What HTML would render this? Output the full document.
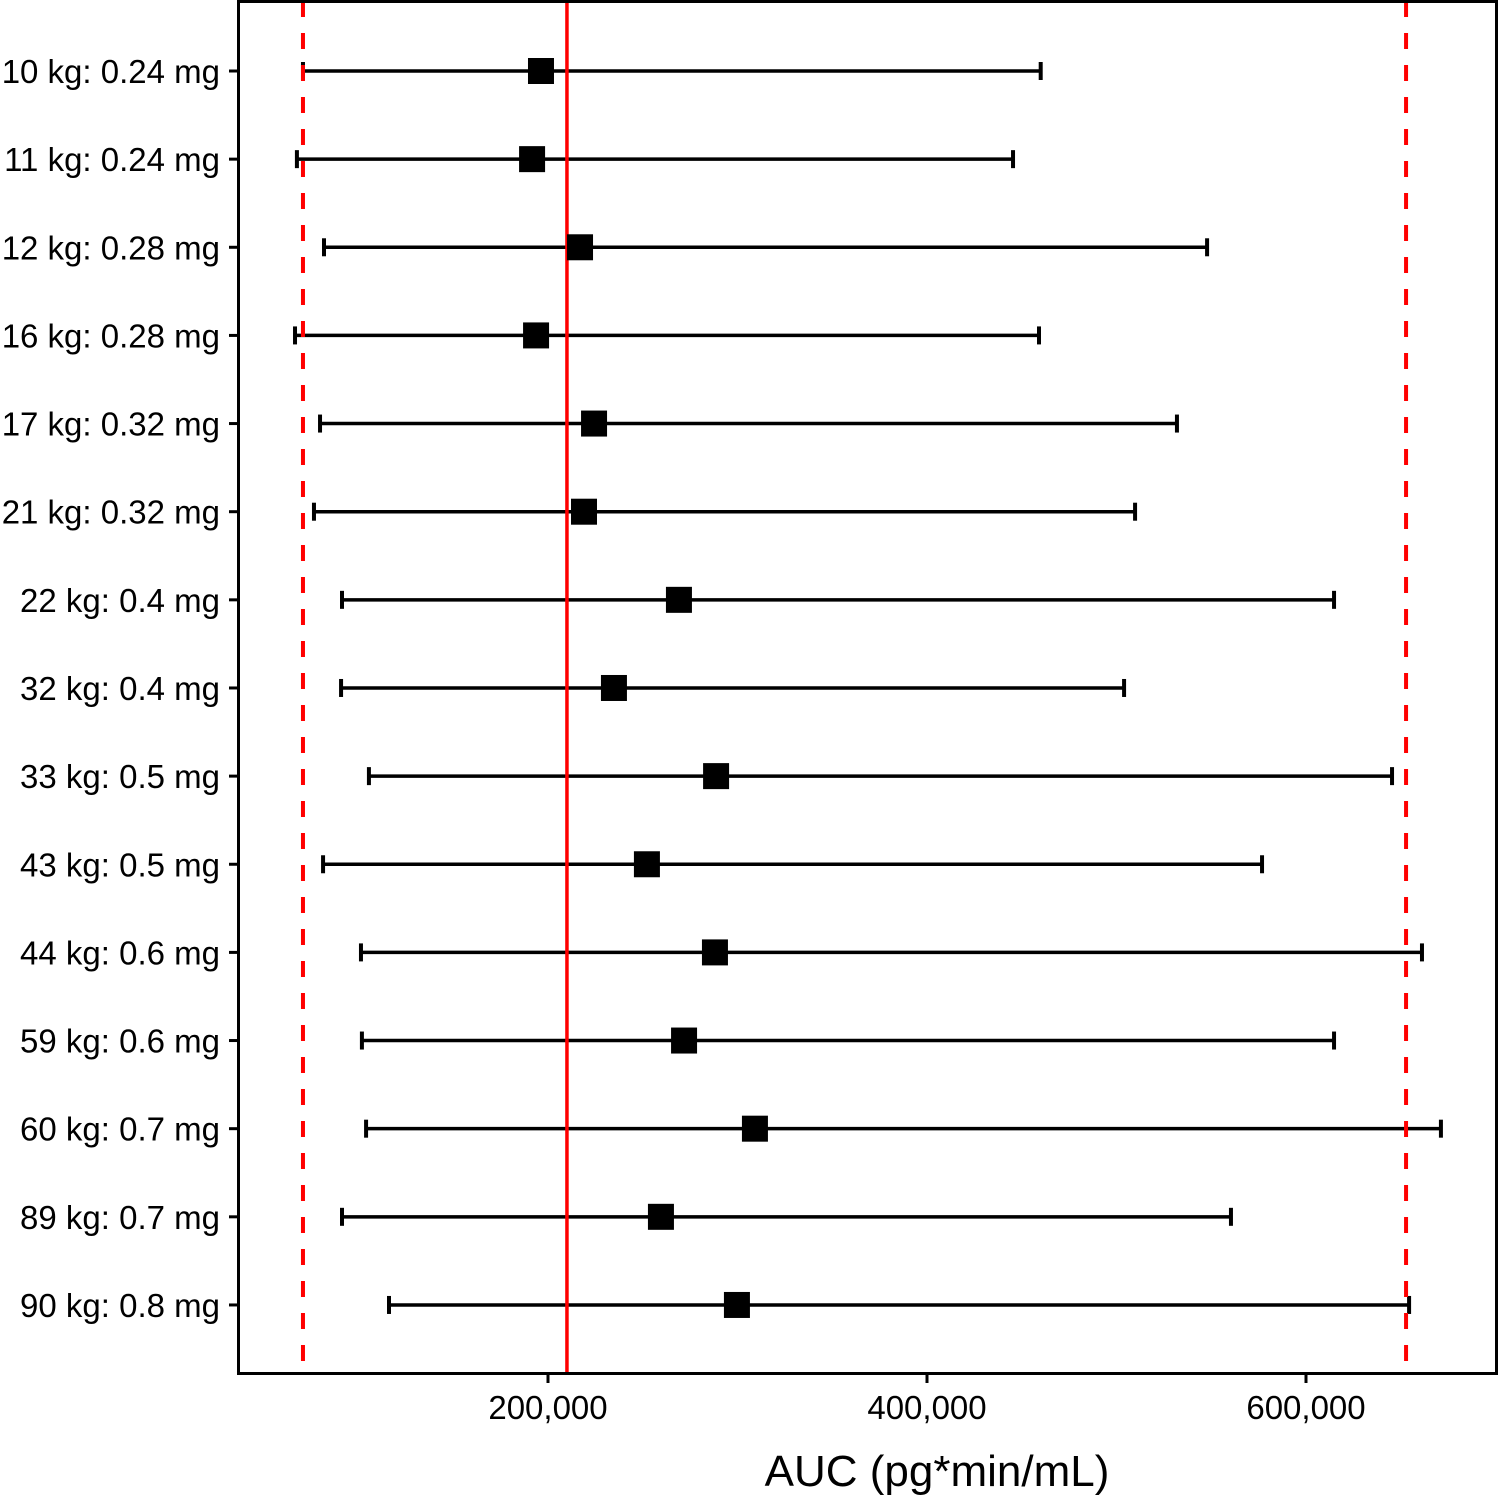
<!DOCTYPE html>
<html><head><meta charset="utf-8"><style>
html,body{margin:0;padding:0;background:#fff;}
svg text{font-family:"Liberation Sans",Arial,sans-serif;}
</style></head><body>
<svg id="chart" width="1499" height="1495" viewBox="0 0 1499 1495" xmlns="http://www.w3.org/2000/svg">
<g id="bars"></g>
<g id="refs"></g>
<g id="pts"></g>
<rect x="238.5" y="1.5" width="1258" height="1372" fill="none" stroke="#000" stroke-width="3"/>
<g id="yaxis"></g>
<g id="xaxis"></g>
<text x="937" y="1486" font-size="44" text-anchor="middle">AUC (pg*min/mL)</text>
</svg>
<script>
const categories = ["10 kg: 0.24 mg","11 kg: 0.24 mg","12 kg: 0.28 mg","16 kg: 0.28 mg","17 kg: 0.32 mg","21 kg: 0.32 mg","22 kg: 0.4 mg","32 kg: 0.4 mg","33 kg: 0.5 mg","43 kg: 0.5 mg","44 kg: 0.6 mg","59 kg: 0.6 mg","60 kg: 0.7 mg","89 kg: 0.7 mg","90 kg: 0.8 mg"];
const estimates = [196300,191600,216900,193700,224300,219000,269100,234800,288700,252200,288100,271800,309200,259600,299700];
const lowerCI = [70700,67500,81800,66500,79700,76500,91300,90800,105500,81300,101300,101800,104000,91300,116100];
const upperCI = [460000,445400,547800,459100,531900,509800,614800,504000,645400,576800,661200,614800,671200,560400,654400];
const refSolid = [210000];
const refDashed = [70700,652800];
const xTicks = [200000,400000,600000];
const xTickLabels = ["200,000","400,000","600,000"];

const NS="http://www.w3.org/2000/svg";
const x = v => 169 + v*0.001895;
const y = i => 71 + i*88.14;
function mk(tag, parent, attrs){const e=document.createElementNS(NS,tag);for(const k in attrs)e.setAttribute(k,attrs[k]);document.getElementById(parent).appendChild(e);return e;}

categories.forEach((c,i)=>{
  const yy=y(i);
  let l=mk('line','bars',{x1:x(lowerCI[i]),x2:x(upperCI[i]),y1:yy,y2:yy,stroke:'#000','stroke-width':3.5});
  
  
  [lowerCI[i],upperCI[i]].forEach(v=>{
    let cap=mk('line','bars',{x1:x(v),x2:x(v),y1:yy-9,y2:yy+9,stroke:'#000','stroke-width':4});
    
    
  });
  let r=mk('rect','pts',{x:x(estimates[i])-13,y:yy-13,width:26,height:26,fill:'#000'});
  
  
  let t=mk('line','yaxis',{x1:229,x2:238,y1:yy,y2:yy,stroke:'#000','stroke-width':3});
  
  
  let tx=mk('text','yaxis',{x:220,y:yy+12,'font-size':33,'text-anchor':'end'});
  tx.textContent=c;
  
  
});
refSolid.forEach(v=>{
  let l=mk('line','refs',{x1:x(v),x2:x(v),y1:1,y2:1374,stroke:'#ff0000','stroke-width':3.5});
  
  
});
refDashed.forEach(v=>{
  let l=mk('line','refs',{x1:x(v),x2:x(v),y1:1,y2:1374,stroke:'#ff0000','stroke-width':4,'stroke-dasharray':'16 16'});
  
  
});
xTicks.forEach((v,i)=>{
  let t=mk('line','xaxis',{x1:x(v),x2:x(v),y1:1374,y2:1383,stroke:'#000','stroke-width':3});
  
  
  let tx=mk('text','xaxis',{x:x(v),y:1419,'font-size':33,'text-anchor':'middle'});
  tx.textContent=xTickLabels[i];
  
  
});
</script>
</body></html>
